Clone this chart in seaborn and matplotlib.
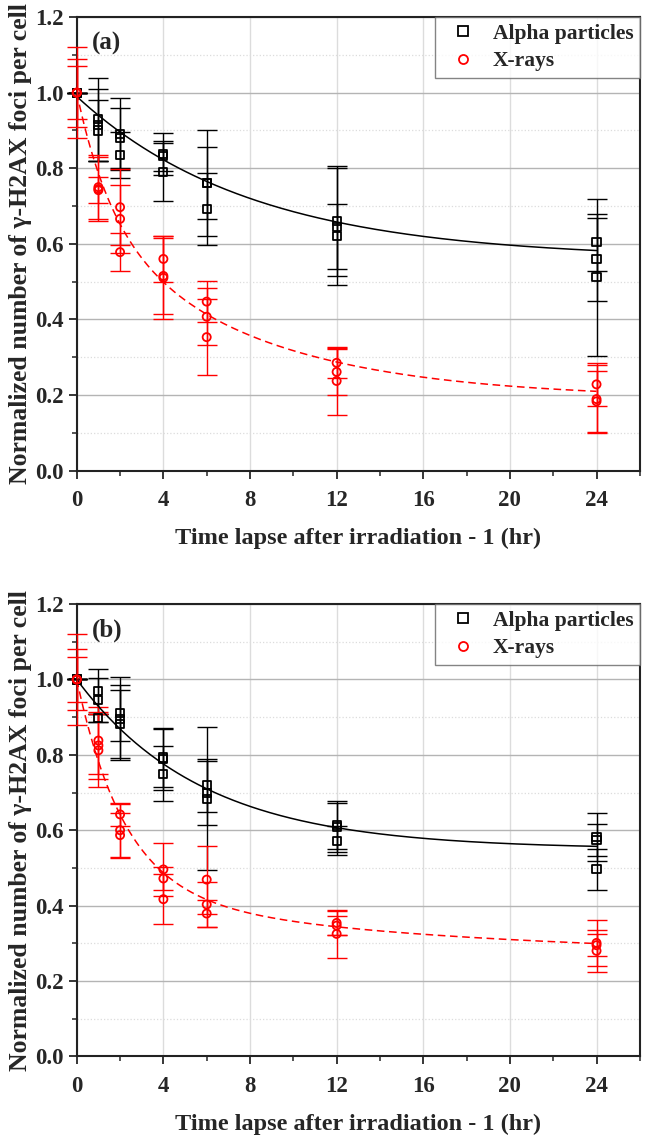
import numpy as np
import pandas as pd
import matplotlib
matplotlib.use("Agg")
import matplotlib.pyplot as plt
from matplotlib.lines import Line2D
from matplotlib.ticker import MultipleLocator
import seaborn as sns

# sampling times (hr), three replicates at each time
times = [0, 1, 2, 4, 6, 12, 24]

# panel (a)
a_alpha = [[1.0, 1.0, 1.0], [0.93, 0.915, 0.90], [0.891, 0.880, 0.835], [0.838, 0.833, 0.790],
           [0.76, 0.76, 0.693], [0.66, 0.645, 0.62], [0.604, 0.559, 0.511]]
a_alpha_err = [[0.0, 0.0, 0.0], [0.11, 0.095, 0.08], [0.095, 0.08, 0.06], [0.055, 0.04, 0.077],
               [0.14, 0.095, 0.095], [0.145, 0.155, 0.086], [0.076, 0.11, 0.208]]
a_xray = [[1.0, 1.0, 1.0], [0.75, 0.745, 0.742], [0.697, 0.666, 0.578], [0.56, 0.515, 0.51],
          [0.447, 0.407, 0.353], [0.285, 0.261, 0.237], [0.228, 0.189, 0.183]]
a_xray_err = [[0.12, 0.09, 0.07], [0.085, 0.085, 0.035], [0.10, 0.09, 0.05], [0.06, 0.10, 0.11],
              [0.055, 0.075, 0.10], [0.04, 0.06, 0.09], [0.057, 0.09, 0.08]]

# panel (b)
b_alpha = [[1.0, 1.0, 1.0], [0.969, 0.946, 0.898], [0.911, 0.896, 0.881], [0.793, 0.788, 0.75],
           [0.719, 0.699, 0.684], [0.614, 0.608, 0.572], [0.583, 0.574, 0.496]]
b_alpha_err = [[0.0, 0.0, 0.0], [0.06, 0.058, 0.01], [0.075, 0.11, 0.09], [0.078, 0.08, 0.073],
               [0.07, 0.085, 0.19], [0.064, 0.065, 0.038], [0.064, 0.043, 0.054]]
b_xray = [[1.0, 1.0, 1.0], [0.838, 0.825, 0.812], [0.642, 0.600, 0.587], [0.496, 0.472, 0.417],
          [0.469, 0.403, 0.379], [0.354, 0.347, 0.325], [0.301, 0.295, 0.280]]
b_xray_err = [[0.12, 0.08, 0.06], [0.09, 0.09, 0.097], [0.03, 0.07, 0.06], [0.07, 0.03, 0.067],
              [0.09, 0.06, 0.035], [0.033, 0.026, 0.063], [0.06, 0.03, 0.056]]

# exponential fit parameters: offset, then (amplitude, tau) pairs
fit_a_alpha = [0.56, 0.43, 8.1]
fit_a_xray = [0.19, 0.33, 1.6, 0.48, 7.5]
fit_b_alpha = [0.55, 0.45, 5.8]
fit_b_xray = [0.265, 0.565, 2.2, 0.17, 15.0]

labels = ["Alpha particles", "X-rays"]
panel_tags = ["(a)", "(b)"]


def fit_curve(p, t):
    y = np.full_like(t, p[0])
    for amp, tau in zip(p[1::2], p[2::2]):
        y = y + amp * np.exp(-t / tau)
    return y


def tidy(vals, errs):
    rows = []
    for t, v, e in zip(times, vals, errs):
        for vi, ei in zip(v, e):
            rows.append((t, vi, ei))
    return pd.DataFrame(rows, columns=["time", "value", "err"])


sns.set_style("white")
plt.rcParams["font.family"] = ["Liberation Serif", "DejaVu Serif"]
plt.rcParams["font.weight"] = "bold"
plt.rcParams["axes.labelweight"] = "bold"

fig = plt.figure(figsize=(6.45, 11.42), dpi=100)
ax_a = fig.add_axes([0.119, 0.588, 0.873, 0.397])
ax_b = fig.add_axes([0.119, 0.075, 0.873, 0.396])

panels = [
    (ax_a, a_alpha, a_alpha_err, a_xray, a_xray_err, fit_a_alpha, fit_a_xray),
    (ax_b, b_alpha, b_alpha_err, b_xray, b_xray_err, fit_b_alpha, fit_b_xray),
]

t_fit = np.linspace(0, 24, 300)

for (ax, al, al_e, xr, xr_e, f_al, f_xr), tag in zip(panels, panel_tags):
    ax.set_axisbelow(True)
    ax.grid(which="major", axis="y", color="#b4b4b4", lw=1.0)
    ax.grid(which="major", axis="x", color="#dcdcdc", lw=1.0)
    ax.grid(which="minor", axis="y", color="#dcdcdc", lw=0.9, ls=":")

    for vals, errs, col, mk, fit, ls in [
        (al, al_e, "black", "s", f_al, "-"),
        (xr, xr_e, "red", "o", f_xr, (0, (5, 3))),
    ]:
        df = tidy(vals, errs)
        ax.errorbar(df["time"], df["value"], yerr=df["err"], fmt="none",
                    ecolor=col, elinewidth=1.0, capsize=7, capthick=1.0,
                    clip_on=False, zorder=3)
        sns.lineplot(x=t_fit, y=fit_curve(fit, t_fit), ax=ax, color=col,
                     lw=1.1, linestyle=ls, zorder=4)
        sns.scatterplot(data=df, x="time", y="value", ax=ax, marker=mk, s=34,
                        facecolor="none", edgecolor=col, linewidth=1.3,
                        zorder=5, clip_on=False)

    ax.set_xlim(0, 26)
    ax.set_ylim(0, 1.2)
    ax.xaxis.set_major_locator(MultipleLocator(4))
    ax.xaxis.set_minor_locator(MultipleLocator(2))
    ax.yaxis.set_major_locator(MultipleLocator(0.2))
    ax.yaxis.set_minor_locator(MultipleLocator(0.1))
    ax.yaxis.set_major_formatter(matplotlib.ticker.FormatStrFormatter("%.1f"))
    ax.tick_params(which="major", direction="out", length=6, width=1.3,
                   labelsize=16.5, bottom=True, left=True, top=False, right=False)
    ax.tick_params(axis="x", which="major", pad=8)
    ax.tick_params(which="minor", direction="out", length=3.5, width=1.1,
                   bottom=True, left=True, top=False, right=False)
    for lab in ax.get_xticklabels() + ax.get_yticklabels():
        lab.set_fontweight("bold")
    for sp in ax.spines.values():
        sp.set_linewidth(1.5)
        sp.set_color("#222222")

    ax.set_xlabel("Time lapse after irradiation - 1 (hr)", fontsize=17.5,
                  fontweight="bold", labelpad=12)
    ax.set_ylabel("Normalized number of \u03b3-H2AX foci per cell", fontsize=18.5,
                  fontweight="bold", labelpad=2)
    ax.text(0.026, 0.968, tag, transform=ax.transAxes, fontsize=18,
            fontweight="bold", va="top", ha="left")

    handles = [
        Line2D([], [], ls="none", marker="s", mfc="none", mec="black", ms=6.5, mew=1.3),
        Line2D([], [], ls="none", marker="o", mfc="none", mec="red", ms=6.5, mew=1.3),
    ]
    leg = ax.legend(handles, labels, loc="upper right",
                    frameon=True, fancybox=False, borderaxespad=0,
                    handletextpad=0.4, borderpad=0.3, labelspacing=0.35,
                    prop={"weight": "bold", "size": 15.5})
    leg.get_frame().set_edgecolor("#666666")
    leg.get_frame().set_linewidth(1.0)

fig.savefig("out.png", dpi=100)
